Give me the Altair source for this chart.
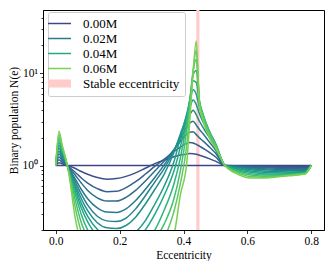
import altair as alt
import pandas as pd

# eccentricity grid
ecc = [0, 0.01, 0.02, 0.03, 0.04, 0.06, 0.08, 0.10, 0.13, 0.16, 0.19, 0.22, 0.25,
       0.28, 0.31, 0.34, 0.37, 0.39, 0.41, 0.42, 0.43, 0.44, 0.45, 0.46, 0.48, 0.50,
       0.53, 0.57, 0.61, 0.65, 0.69, 0.73, 0.76, 0.78, 0.80]

# series names (mass loss in units of M)
names = ["0.000M", "0.005M", "0.010M", "0.015M", "0.020M", "0.025M", "0.030M",
         "0.035M", "0.040M", "0.045M", "0.050M", "0.055M", "0.060M"]

colors = ["#414487", "#3b528b", "#355f8d", "#2f6c8e", "#2a788e", "#25848e", "#21918c",
          "#1f9e89", "#22a884", "#2fb47c", "#44bf70", "#5ec962", "#7ad151"]

# log10 N(e)
log_n_000 = [0] * 35
log_n_005 = [0, 0.031, 0.019, 0.008, -0.005, -0.03, -0.065, -0.095, -0.13, -0.148, -0.142, -0.118, -0.08, -0.03, 0.02, 0.06, 0.095, 0.113, 0.126, 0.13, 0.128, 0.122, 0.112, 0.1, 0.075, 0.048, 0.0, -0.003, -0.005, -0.007, -0.009, -0.01, -0.011, -0.012, 0]
log_n_010 = [0, 0.062, 0.037, 0.016, -0.012, -0.07, -0.135, -0.19, -0.25, -0.283, -0.28, -0.24, -0.175, -0.095, -0.01, 0.07, 0.15, 0.2, 0.24, 0.25, 0.245, 0.23, 0.21, 0.19, 0.145, 0.095, 0.0, -0.006, -0.011, -0.015, -0.018, -0.021, -0.023, -0.023, 0]
log_n_015 = [0, 0.093, 0.056, 0.023, -0.02, -0.1, -0.19, -0.27, -0.35, -0.385, -0.385, -0.345, -0.27, -0.17, -0.06, 0.05, 0.17, 0.26, 0.34, 0.36, 0.365, 0.335, 0.3, 0.27, 0.205, 0.135, 0.0, -0.01, -0.018, -0.024, -0.029, -0.033, -0.035, -0.035, 0]
log_n_020 = [0, 0.124, 0.074, 0.031, -0.025, -0.14, -0.26, -0.36, -0.46, -0.505, -0.508, -0.47, -0.38, -0.26, -0.13, 0.01, 0.17, 0.29, 0.41, 0.46, 0.48, 0.44, 0.39, 0.35, 0.26, 0.17, 0.0, -0.015, -0.026, -0.035, -0.041, -0.045, -0.046, -0.045, 0]
log_n_025 = [0, 0.155, 0.093, 0.039, -0.03, -0.17, -0.31, -0.43, -0.55, -0.6, -0.607, -0.57, -0.47, -0.33, -0.18, -0.03, 0.16, 0.32, 0.48, 0.55, 0.6, 0.55, 0.48, 0.42, 0.31, 0.2, 0.0, -0.021, -0.036, -0.047, -0.054, -0.058, -0.057, -0.055, 0]
log_n_030 = [0, 0.186, 0.112, 0.047, -0.035, -0.2, -0.36, -0.49, -0.62, -0.675, -0.683, -0.65, -0.56, -0.42, -0.26, -0.09, 0.14, 0.34, 0.53, 0.63, 0.71, 0.66, 0.56, 0.48, 0.35, 0.22, 0.0, -0.028, -0.047, -0.06, -0.066, -0.069, -0.067, -0.063, 0]
log_n_035 = [0, 0.217, 0.13, 0.054, -0.04, -0.23, -0.41, -0.55, -0.69, -0.755, -0.77, -0.76, -0.72, -0.6, -0.42, -0.22, 0.04, 0.3, 0.56, 0.7, 0.82, 0.77, 0.63, 0.53, 0.37, 0.23, 0.0, -0.036, -0.06, -0.073, -0.079, -0.08, -0.075, -0.07, 0]
log_n_040 = [0, 0.248, 0.149, 0.062, -0.045, -0.26, -0.46, -0.61, -0.76, -0.83, -0.85, -0.84, -0.8, -0.7, -0.53, -0.32, -0.06, 0.2, 0.52, 0.72, 0.92, 0.9, 0.68, 0.56, 0.38, 0.24, 0.0, -0.046, -0.074, -0.088, -0.092, -0.088, -0.081, -0.076, 0]
log_n_045 = [0, 0.279, 0.167, 0.07, -0.05, -0.3, -0.53, -0.7, -0.84, -0.91, -0.93, -0.92, -0.88, -0.82, -0.7, -0.48, -0.2, 0.08, 0.47, 0.72, 0.98, 1.03, 0.7, 0.57, 0.38, 0.24, 0.0, -0.056, -0.088, -0.102, -0.103, -0.095, -0.087, -0.081, 0]
log_n_050 = [0, 0.31, 0.186, 0.078, -0.055, -0.36, -0.62, -0.78, -0.93, -0.99, -1.0, -0.99, -0.96, -0.9, -0.8, -0.63, -0.36, -0.06, 0.38, 0.68, 1.02, 1.15, 0.7, 0.56, 0.37, 0.23, 0.0, -0.068, -0.104, -0.115, -0.11, -0.1, -0.092, -0.086, 0]
log_n_055 = [0, 0.341, 0.205, 0.085, -0.06, -0.44, -0.72, -0.88, -1.02, -1.07, -1.08, -1.08, -1.05, -1.0, -0.92, -0.78, -0.5, -0.2, 0.22, 0.6, 1.02, 1.25, 0.68, 0.54, 0.35, 0.22, 0.0, -0.08, -0.12, -0.126, -0.118, -0.106, -0.097, -0.09, 0]
log_n_060 = [0, 0.372, 0.223, 0.093, -0.07, -0.55, -0.85, -1.0, -1.12, -1.16, -1.17, -1.17, -1.15, -1.1, -1.02, -0.92, -0.75, -0.32, 0.02, 0.5, 1.0, 1.35, 0.65, 0.5, 0.31, 0.19, 0.0, -0.095, -0.135, -0.136, -0.124, -0.112, -0.102, -0.093, 0]

series = [log_n_000, log_n_005, log_n_010, log_n_015, log_n_020, log_n_025, log_n_030,
          log_n_035, log_n_040, log_n_045, log_n_050, log_n_055, log_n_060]

stable_label = "Stable eccentricity"
stable_ecc = [0.445]

legend_values = ["0.000M", "0.020M", "0.040M", "0.060M", stable_label]

rows = []
for k, (name, vals) in enumerate(zip(names, series)):
    for e, lv in zip(ecc, vals):
        rows.append({"e": e, "N": 10 ** lv, "series": name, "k": k})
df = pd.DataFrame(rows)
band_df = pd.DataFrame({"e": stable_ecc, "series": [stable_label]})

FONT = "Liberation Serif"
IS_BAND = "datum.value == 'Stable eccentricity'"

color_scale = alt.Scale(domain=names + [stable_label], range=colors + ["#ffcccc"])
legend = alt.Legend(
    title=None,
    values=legend_values,
    labelExpr=IS_BAND + " ? datum.label : slice(datum.label, 0, 4) + 'M'",
    symbolType={"expr": IS_BAND + " ? 'M-1,-0.35L1,-0.35L1,0.35L-1,0.35Z' : 'stroke'"},
    symbolSize=529,
    symbolStrokeWidth={"expr": IS_BAND + " ? 0 : 1.5"},
    symbolFillColor={"expr": IS_BAND + " ? '#ffcccc' : 'transparent'"},
    orient="none",
    legendX=5,
    legendY=2,
    padding=5,
    rowPadding=1,
    fillColor="white",
    strokeColor="#cccccc",
    cornerRadius=2,
    labelFont=FONT,
    labelFontSize=13,
    labelFontWeight="normal",
    labelColor="black",
    labelOffset=17,
)

x_enc = alt.X(
    "e:Q",
    scale=alt.Scale(domain=[-0.04, 0.84], nice=False, zero=False),
    axis=alt.Axis(values=[0, 0.2, 0.4, 0.6, 0.8], format=".1f", title="Eccentricity",
                  grid=False, tickSize=3.5, labelPadding=2, titlePadding=2),
)

minor = [0.2, 0.3, 0.4, 0.5, 0.6, 0.7, 0.8, 0.9, 1, 2, 3, 4, 5, 6, 7, 8, 9, 10, 20, 30, 40]

band = alt.Chart(band_df).mark_rule().encode(
    x=x_enc,
    color=alt.Color("series:N", scale=color_scale, legend=legend),
    strokeWidth=alt.value(3.2),
)

lines = alt.Chart(df).mark_line(clip=True).encode(
    x=x_enc,
    y=alt.Y(
        "N:Q",
        scale=alt.Scale(type="log", domain=[0.2, 48.5], nice=False),
        axis=alt.Axis(
            values=minor,
            labelExpr="datum.value == 1 ? '10⁰' : (datum.value == 10 ? '10¹' : '')",
            tickSize={"expr": "datum.value == 1 || datum.value == 10 ? 3.5 : 2"},
            title="Binary population N(e)",
            grid=False, labelPadding=2, titlePadding=3, labelOverlap=False,
        ),
    ),
    color=alt.Color("series:N", scale=color_scale, legend=legend),
    order=alt.Order("k:Q"),
    strokeWidth=alt.value(1.5),
)

chart = alt.layer(band, lines).properties(
    width=281, height=220,
    padding={"left": 0, "top": 0, "right": 1, "bottom": 0},
).configure_view(
    stroke="black", strokeWidth=1
).configure_axis(
    domainColor="black", tickColor="black", labelColor="black", titleColor="black",
    labelFont=FONT, titleFont=FONT, labelFontSize=11.5, titleFontSize=11.5,
    titleFontWeight="normal", domainWidth=1, tickWidth=0.8,
).configure_line(interpolate="monotone")

chart.save("out.html", embed_options={"renderer": "svg", "actions": False})
